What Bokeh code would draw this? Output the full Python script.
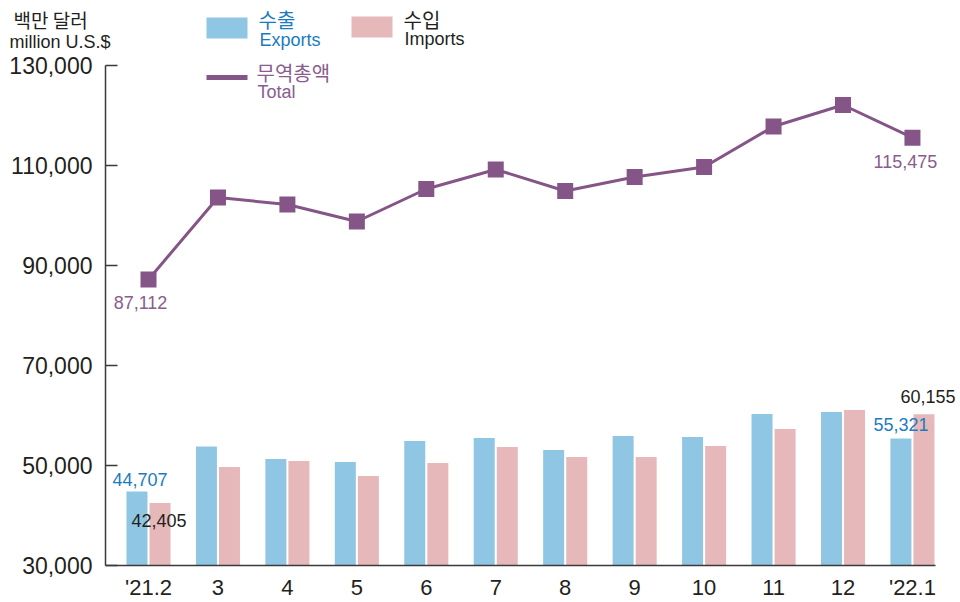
from bokeh.plotting import figure
from bokeh.models import Range1d, FixedTicker, NumeralTickFormatter, ColumnDataSource
from bokeh.core.properties import value
from bokeh.embed import file_html
from bokeh.resources import INLINE

# ---------------- data ----------------
months = ["'21.2", "3", "4", "5", "6", "7", "8", "9", "10", "11", "12", "'22.1"]
exports = [44707, 53700, 51200, 50600, 54800, 55400, 53000, 55800, 55600, 60200, 60600, 55321]
imports = [42405, 49600, 50800, 47800, 50400, 53600, 51600, 51600, 53800, 57200, 61000, 60155]
totals = [87112, 103500, 102100, 98700, 105200, 109100, 104800, 107600, 109600, 117700, 122000, 115475]
y_ticks = [30000, 50000, 70000, 90000, 110000, 130000]

# ---------------- style ----------------
C_EXP = "#8fc6e3"
C_IMP = "#e6b8b9"
C_TOT = "#845586"
C_TOT_TXT = "#8a5c8f"
C_EXP_TXT = "#1b7bc0"
C_TXT = "#231f20"
C_AXIS = "#3a3a3a"
LAT = value("Liberation Sans")
KR = value("Noto Sans CJK KR")

W, H = 960, 602
PX_PER_CAT = 69.45
CAT0_X = 148.0          # canvas x of first category centre
BASE_Y = 564.5          # canvas y of 30,000
PX_PER_UNIT = 1 / 200.0

x0 = -CAT0_X / PX_PER_CAT
x1 = x0 + W / PX_PER_CAT
y_top = 30000 + BASE_Y / PX_PER_UNIT
y_bot = 30000 - (H - BASE_Y) / PX_PER_UNIT


def dx(px):  # canvas px -> data x (layout helpers only)
    return x0 + px / PX_PER_CAT


def dy(py):  # canvas px -> data y
    return y_top - py / PX_PER_UNIT


p = figure(width=W, height=H, output_backend="svg", toolbar_location=None,
           x_range=Range1d(x0, x1), y_range=Range1d(y_bot, y_top),
           min_border_left=0, min_border_right=0, min_border_top=0, min_border_bottom=0)
p.outline_line_color = None
p.background_fill_color = "white"
p.border_fill_color = "white"
p.xgrid.visible = False
p.ygrid.visible = False

axis_x = dx(105)
axis_end = dx(935)

# y axis
ya = p.yaxis[0]
ya.fixed_location = axis_x
ya.bounds = (y_ticks[0], y_ticks[-1])
ya.ticker = FixedTicker(ticks=y_ticks)
ya.formatter = NumeralTickFormatter(format="0,0")
ya.major_label_text_font = "Liberation Sans"
ya.major_label_text_font_size = "23px"
ya.major_label_text_color = C_TXT
ya.major_label_standoff = 13
ya.axis_line_color = C_AXIS
ya.axis_line_width = 1.5
ya.major_tick_in = 12
ya.major_tick_out = 0
ya.major_tick_line_color = C_AXIS
ya.major_tick_line_width = 1.5
ya.minor_tick_line_color = None

# x axis
xa = p.xaxis[0]
xa.fixed_location = y_ticks[0]
xa.bounds = (axis_x, axis_end)
xa.ticker = FixedTicker(ticks=list(range(len(months))))
xa.major_label_overrides = {i: m for i, m in enumerate(months)}
xa.major_label_text_font = "Liberation Sans"
xa.major_label_text_font_size = "22px"
xa.major_label_text_color = C_TXT
xa.major_label_standoff = 10
xa.axis_line_color = C_AXIS
xa.axis_line_width = 1.5
xa.major_tick_in = 0
xa.major_tick_out = 0
xa.major_tick_line_color = None
xa.minor_tick_line_color = None

# ---------------- bars ----------------
idx = list(range(len(months)))
src = ColumnDataSource(dict(x=idx, exp=exports, imp=imports, tot=totals,
                            xe=[i - 0.166 for i in idx], xi=[i + 0.166 for i in idx]))
bw = 21 / PX_PER_CAT
p.vbar(x="xe", top="exp", bottom=y_ticks[0], width=bw, source=src,
       fill_color=C_EXP, line_color=None)
p.vbar(x="xi", top="imp", bottom=y_ticks[0], width=bw, source=src,
       fill_color=C_IMP, line_color=None)

# ---------------- total line ----------------
p.line(x="x", y="tot", source=src, line_color=C_TOT, line_width=3)
p.scatter(x="x", y="tot", source=src, marker="square", size=16,
          fill_color=C_TOT, line_color=None)

# ---------------- value labels ----------------
def fmt(v):
    return f"{v:,}"

first, last = 0, len(months) - 1
p.text(x=[first - 0.166], y=[exports[first]], text=[fmt(exports[first])],
       text_font=LAT, text_font_size="18px", text_color=C_EXP_TXT,
       text_align="center", text_baseline="alphabetic", x_offset=3, y_offset=-12)
p.text(x=[first + 0.166], y=[imports[first]], text=[fmt(imports[first])],
       text_font=LAT, text_font_size="18px", text_color=C_TXT,
       text_align="center", text_baseline="alphabetic", x_offset=-1, y_offset=18)
p.text(x=[last - 0.166], y=[exports[last]], text=[fmt(exports[last])],
       text_font=LAT, text_font_size="18px", text_color=C_EXP_TXT,
       text_align="center", text_baseline="alphabetic", x_offset=0, y_offset=-14)
p.text(x=[last + 0.166], y=[imports[last]], text=[fmt(imports[last])],
       text_font=LAT, text_font_size="18px", text_color=C_TXT,
       text_align="center", text_baseline="alphabetic", x_offset=4, y_offset=-18)
p.text(x=[first], y=[totals[first]], text=[fmt(totals[first])],
       text_font=LAT, text_font_size="18px", text_color=C_TOT_TXT,
       text_align="center", text_baseline="middle", x_offset=-8, y_offset=23)
p.text(x=[last], y=[totals[last]], text=[fmt(totals[last])],
       text_font=LAT, text_font_size="18px", text_color=C_TOT_TXT,
       text_align="center", text_baseline="middle", x_offset=-7, y_offset=24)

# ---------------- unit title ----------------
p.text(x=[dx(13)], y=[dy(19)], text=["백만 달러"], text_font=KR, text_font_size="19px",
       text_color=C_TXT, text_align="left", text_baseline="middle")
p.text(x=[dx(9)], y=[dy(41)], text=["million U.S.$"], text_font=LAT, text_font_size="18px",
       text_color=C_TXT, text_align="left", text_baseline="alphabetic")

# ---------------- legend (manual) ----------------
p.quad(left=[dx(206)], right=[dx(247)], top=[dy(17)], bottom=[dy(38)],
       fill_color=C_EXP, line_color=None)
p.quad(left=[dx(351)], right=[dx(392)], top=[dy(16)], bottom=[dy(37)],
       fill_color=C_IMP, line_color=None)
p.segment(x0=[dx(206)], x1=[dx(247)], y0=[dy(77)], y1=[dy(77)],
          line_color=C_TOT, line_width=5)

leg = [
    ("수출", KR, "20px", 258, 19, "middle", C_EXP_TXT),
    ("Exports", LAT, "18px", 259, 39, "alphabetic", C_EXP_TXT),
    ("수입", KR, "20px", 403, 19, "middle", C_TXT),
    ("Imports", LAT, "18px", 404, 38, "alphabetic", C_TXT),
    ("무역총액", KR, "20px", 256, 72, "middle", C_TOT_TXT),
    ("Total", LAT, "18px", 257, 91, "alphabetic", C_TOT_TXT),
]
for t, f, fs, lx, ly, bl, c in leg:
    p.text(x=[dx(lx)], y=[dy(ly)], text=[t], text_font=f, text_font_size=fs,
           text_color=c, text_align="left", text_baseline=bl)

open("out.html", "w").write(file_html(p, INLINE))
